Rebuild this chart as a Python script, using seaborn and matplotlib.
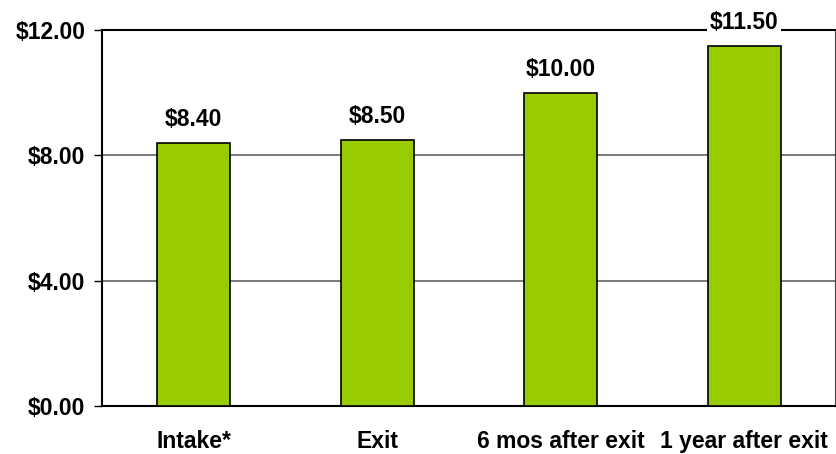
import matplotlib
matplotlib.use("Agg")
import matplotlib.pyplot as plt
import seaborn as sns
import pandas as pd
from matplotlib.ticker import FixedLocator

# Hourly wage at each follow-up point
stages = ["Intake*", "Exit", "6 mos after exit", "1 year after exit"]
wages = [8.40, 8.50, 10.00, 11.50]
bar_labels = ["$8.40", "$8.50", "$10.00", "$11.50"]
y_ticks = [0, 4, 8, 12]
y_tick_labels = ["$0.00", "$4.00", "$8.00", "$12.00"]

df = pd.DataFrame({"stage": stages, "wage": wages})

sns.set_theme(style="white")
plt.rcParams["font.family"] = ["Liberation Sans", "DejaVu Sans"]
plt.rcParams["font.weight"] = "bold"
plt.rcParams["text.color"] = "black"
plt.rcParams["xtick.color"] = "black"
plt.rcParams["ytick.color"] = "black"

FS = 16.5

fig = plt.figure(figsize=(8.37, 4.54), dpi=100)
ax = fig.add_axes([102 / 837, 48 / 454, 734 / 837, 376 / 454])

sns.barplot(data=df, x="stage", y="wage", color="#99CC00", edgecolor="black",
            linewidth=1.2, width=0.4, saturation=1, ax=ax, zorder=3)

ax.set_ylim(0, 12)
ax.set_xlim(-0.5, len(stages) - 0.5)
ax.set_yticks(y_ticks)
ax.set_yticklabels(y_tick_labels, fontsize=FS, fontweight="bold", color="black")
ax.set_xticks(range(len(stages)))
ax.set_xticklabels(stages, fontsize=FS, fontweight="bold", color="black")
ax.xaxis.set_minor_locator(FixedLocator([i - 0.5 for i in range(len(stages) + 1)]))
ax.tick_params(axis="x", which="major", length=0, pad=17)
ax.tick_params(axis="x", which="minor", length=6, width=1, color="black", direction="out")
ax.tick_params(axis="y", length=6, width=1, color="black", direction="out", pad=6, left=True)
ax.set_xlabel("")
ax.set_ylabel("")

for y in y_ticks[1:-1]:
    ax.axhline(y, color="#555555", linewidth=1.1, zorder=1)

for side in ["left", "bottom", "top", "right"]:
    ax.spines[side].set_visible(True)
    ax.spines[side].set_color("black")
    ax.spines[side].set_linewidth(1.5)
ax.spines["right"].set_color("#444444")

for i, (v, lab) in enumerate(zip(wages, bar_labels)):
    ax.annotate(lab, (i, v), xytext=(0, 17), textcoords="offset pixels",
                ha="center", va="baseline", fontsize=FS, fontweight="bold",
                color="black",
                bbox=dict(facecolor="white", edgecolor="none", pad=2),
                zorder=10, annotation_clip=False)

fig.savefig("out.png", dpi=100)
